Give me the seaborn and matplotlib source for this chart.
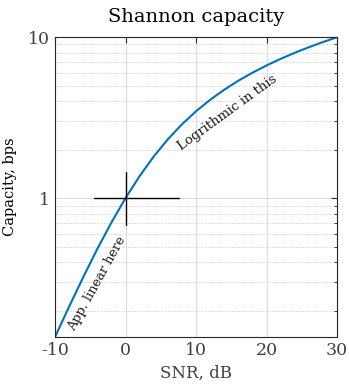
import matplotlib
matplotlib.use("Agg")
import matplotlib.pyplot as plt
import pandas as pd
import seaborn as sns
from matplotlib.ticker import LogLocator, NullFormatter, FixedLocator

# Values (SNR in dB, capacity in bps)
snr_db = [-10, -8, -6, -4, -2, 0, 2, 4, 6, 8, 10, 12, 14, 16, 18, 20, 22, 24, 26, 28, 30]
capacity = [0.1375, 0.212, 0.323, 0.484, 0.706, 1.0, 1.370, 1.812, 2.316, 2.870, 3.459,
            4.075, 4.707, 5.351, 6.002, 6.658, 7.317, 7.979, 8.640, 9.304, 9.967]
x_ticks = [-10, 0, 10, 20, 30]
y_ticks = [1, 10]

# cross marker at (0 dB, 1 bps)
cross_x = [-4.4, 7.6]
cross_y = [0.68, 1.45]

sns.set_theme(style="white")
plt.rcParams["font.family"] = ["DejaVu Serif"]
plt.rcParams["axes.unicode_minus"] = False

df = pd.DataFrame({"snr": snr_db, "cap": capacity})

fig = plt.figure(figsize=(3.49, 3.89), dpi=100)
ax = fig.add_axes([55 / 349, 1 - 337 / 389, 282 / 349, 300 / 389])

sns.lineplot(data=df, x="snr", y="cap", color="#0072BD", linewidth=1.5, ax=ax)

ax.set_yscale("log")
ax.set_xlim(-10, 30)
ax.set_ylim(capacity[0], 10)

ax.xaxis.set_major_locator(FixedLocator(x_ticks))
ax.yaxis.set_major_locator(FixedLocator(y_ticks))
ax.set_yticklabels(["1", "10"])
ax.yaxis.set_minor_locator(LogLocator(base=10, subs=range(2, 10)))
ax.yaxis.set_minor_formatter(NullFormatter())

ax.grid(True, which="major", color="#dcdcdc", linewidth=0.8, linestyle="-")
ax.grid(True, which="minor", axis="y", color="#c0c0c0", linewidth=0.6, linestyle=":")
ax.set_axisbelow(True)

for s in ax.spines.values():
    s.set_visible(True)
    s.set_color("#262626")
    s.set_linewidth(0.8)

ax.tick_params(which="both", direction="in", top=True, right=True, color="#262626",
               labelcolor="#404040", labelsize=12.5)
ax.tick_params(which="major", length=4, width=0.8)
ax.tick_params(which="minor", length=2.5, width=0.6)

ax.plot([cross_x[0], cross_x[1]], [1, 1], color="black", linewidth=1.0)
ax.plot([0, 0], [cross_y[0], cross_y[1]], color="black", linewidth=1.0)

ax.text(-4.0, 0.297, "App. linear here", rotation=61, ha="center", va="center",
        fontsize=9.3, color="#1a1a1a", rotation_mode="anchor")
ax.text(14.4, 3.37, "Logrithmic in this", rotation=36, ha="center", va="center",
        fontsize=9.5, color="#1a1a1a", rotation_mode="anchor")

ax.set_title("Shannon capacity", fontsize=14, color="black", pad=11)
ax.set_xlabel("SNR, dB", fontsize=12, color="#404040", labelpad=4)
ax.set_ylabel("Capacity, bps", fontsize=10.5, color="black", labelpad=8)

fig.savefig("out.png", dpi=100)
